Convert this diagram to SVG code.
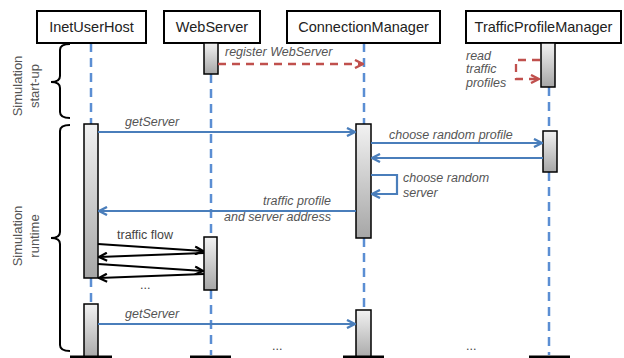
<svg xmlns="http://www.w3.org/2000/svg" width="624" height="358" viewBox="0 0 624 358">
  <style>
    .box { fill: #fff; stroke: #000; stroke-width: 2; }
    .name { font-family: "Liberation Sans", Arial, sans-serif; font-size: 14.5px; fill: #222; text-anchor: middle; }
    .life { stroke: #5b8ed3; stroke-width: 2.5; stroke-dasharray: 9 6; fill: none; }
    .act { fill: url(#actGrad); stroke: #000; stroke-width: 1.5; }
    .msg { stroke: #4a7ebb; stroke-width: 2.2; fill: none; }
    .red { stroke: #c0504d; stroke-width: 2.3; stroke-dasharray: 8 6; fill: none; }
    .flow { stroke: #000; stroke-width: 2; fill: none; }
    .lbl { font-family: "Liberation Sans", Arial, sans-serif; font-size: 12.5px; font-style: italic; fill: #555; }
    .plain { font-family: "Liberation Sans", Arial, sans-serif; font-size: 12.5px; fill: #444; }
    .side { font-family: "Liberation Sans", Arial, sans-serif; font-size: 13px; fill: #555; text-anchor: middle; }
    .brace { stroke: #000; stroke-width: 2; fill: none; }
    .foot { stroke: #000; stroke-width: 3; }
  </style>
  <defs>
    <linearGradient id="actGrad" x1="0" y1="0" x2="0" y2="1">
      <stop offset="0" stop-color="#f2f2f2"/>
      <stop offset="1" stop-color="#a6a6a6"/>
    </linearGradient>
    <marker id="arrBlue" viewBox="0 0 10 10" refX="9" refY="5" markerWidth="10" markerHeight="10" markerUnits="userSpaceOnUse" orient="auto">
      <path d="M1,1 L9,5 L1,9" fill="none" stroke="#4a7ebb" stroke-width="2.4"/>
    </marker>
    <marker id="arrRed" viewBox="0 0 10 10" refX="9" refY="5" markerWidth="10" markerHeight="10" markerUnits="userSpaceOnUse" orient="auto">
      <path d="M1,1 L9,5 L1,9" fill="none" stroke="#c0504d" stroke-width="2.4"/>
    </marker>
    <marker id="arrBlack" viewBox="0 0 10 10" refX="9" refY="5" markerWidth="10" markerHeight="10" markerUnits="userSpaceOnUse" orient="auto">
      <path d="M1,1 L9,5 L1,9" fill="none" stroke="#000" stroke-width="2.2"/>
    </marker>
  </defs>

  <!-- phase braces and labels -->
  <g id="phase-startup">
    <path class="brace" d="M70,44 Q60,44 60,50 L60,76 Q60,82 51,82 Q60,82 60,88 L60,112 Q60,118 70,118"/>
    <text class="side" transform="translate(22,86) rotate(-90)">Simulation</text>
    <text class="side" transform="translate(39,86) rotate(-90)">start-up</text>
  </g>
  <g id="phase-runtime">
    <path class="brace" d="M70,125 Q60,125 60,131 L60,232 Q60,238 51,238 Q60,238 60,244 L60,345 Q60,351 70,351"/>
    <text class="side" transform="translate(22,236) rotate(-90)">Simulation</text>
    <text class="side" transform="translate(39,236) rotate(-90)">runtime</text>
  </g>

  <!-- lifelines -->
  <g id="lifelines">
    <path class="life" d="M91,43 V124 M91,278 V304"/>
    <path class="life" d="M211,74 V237 M211,290 V355"/>
    <path class="life" d="M364,43 V124 M364,238 V310"/>
    <path class="life" d="M549,87 V131 M549,172 V355"/>
  </g>

  <!-- participants -->
  <g id="InetUserHost">
    <rect class="box" x="37" y="11" width="109" height="32"/>
    <text class="name" x="91.5" y="32">InetUserHost</text>
    <rect class="act" x="84" y="124" width="14" height="154"/>
    <rect class="act" x="84" y="304" width="14" height="56"/>
    <line class="foot" x1="70" y1="357" x2="112" y2="357"/>
  </g>
  <g id="WebServer">
    <rect class="box" x="164" y="11" width="96" height="32"/>
    <text class="name" x="212" y="32">WebServer</text>
    <rect class="act" x="204" y="43" width="14" height="31"/>
    <rect class="act" x="204" y="237" width="13" height="53"/>
    <line class="foot" x1="190" y1="357" x2="231" y2="357"/>
  </g>
  <g id="ConnectionManager">
    <rect class="box" x="287" y="11" width="153" height="32"/>
    <text class="name" x="363.5" y="32">ConnectionManager</text>
    <rect class="act" x="356" y="124" width="15" height="114"/>
    <rect class="act" x="356" y="310" width="15" height="50"/>
    <line class="foot" x1="343" y1="357" x2="384" y2="357"/>
  </g>
  <g id="TrafficProfileManager">
    <rect class="box" x="466" y="11" width="155" height="32"/>
    <text class="name" x="543.5" y="32">TrafficProfileManager</text>
    <rect class="act" x="541" y="43" width="14" height="44"/>
    <rect class="act" x="543" y="131" width="14" height="41"/>
    <line class="foot" x1="529" y1="357" x2="570" y2="357"/>
  </g>

  <!-- messages -->
  <g id="connectors">
    <line class="red" x1="218" y1="64" x2="363" y2="64" marker-end="url(#arrRed)"/>
    <polyline class="red" points="540,60 516,60 516,79 539,79" marker-end="url(#arrRed)"/>

    <line class="msg" x1="98" y1="132" x2="355" y2="132" marker-end="url(#arrBlue)"/>
    <line class="msg" x1="371" y1="143" x2="542" y2="143" marker-end="url(#arrBlue)"/>
    <line class="msg" x1="543" y1="158" x2="372" y2="158" marker-end="url(#arrBlue)"/>
    <polyline class="msg" points="371,175 397,175 397,194 372,194" marker-end="url(#arrBlue)"/>
    <line class="msg" x1="356" y1="211" x2="99" y2="211" marker-end="url(#arrBlue)"/>

    <line class="flow" x1="98" y1="244" x2="203" y2="251" marker-end="url(#arrBlack)"/>
    <line class="flow" x1="204" y1="253" x2="99" y2="257" marker-end="url(#arrBlack)"/>
    <line class="flow" x1="98" y1="264" x2="203" y2="271" marker-end="url(#arrBlack)"/>
    <line class="flow" x1="204" y1="274" x2="99" y2="278" marker-end="url(#arrBlack)"/>

    <line class="msg" x1="98" y1="324" x2="355" y2="324" marker-end="url(#arrBlue)"/>
  </g>

  <!-- message labels -->
  <g id="labels">
    <text class="lbl" x="225" y="56">register WebServer</text>
    <text class="lbl" x="466" y="60">read</text>
    <text class="lbl" x="466" y="73">traffic</text>
    <text class="lbl" x="466" y="87">profiles</text>
    <text class="lbl" x="125" y="126">getServer</text>
    <text class="lbl" x="389" y="139">choose random profile</text>
    <text class="lbl" x="403" y="182">choose random</text>
    <text class="lbl" x="403" y="197">server</text>
    <text class="lbl" x="331" y="205" text-anchor="end">traffic profile</text>
    <text class="lbl" x="331" y="221" text-anchor="end">and server address</text>
    <text class="plain" x="117" y="239">traffic flow</text>
    <text class="plain" x="140" y="289">...</text>
    <text class="lbl" x="125" y="318">getServer</text>
    <text class="plain" x="272" y="350">...</text>
    <text class="plain" x="466" y="350">...</text>
  </g>
</svg>
